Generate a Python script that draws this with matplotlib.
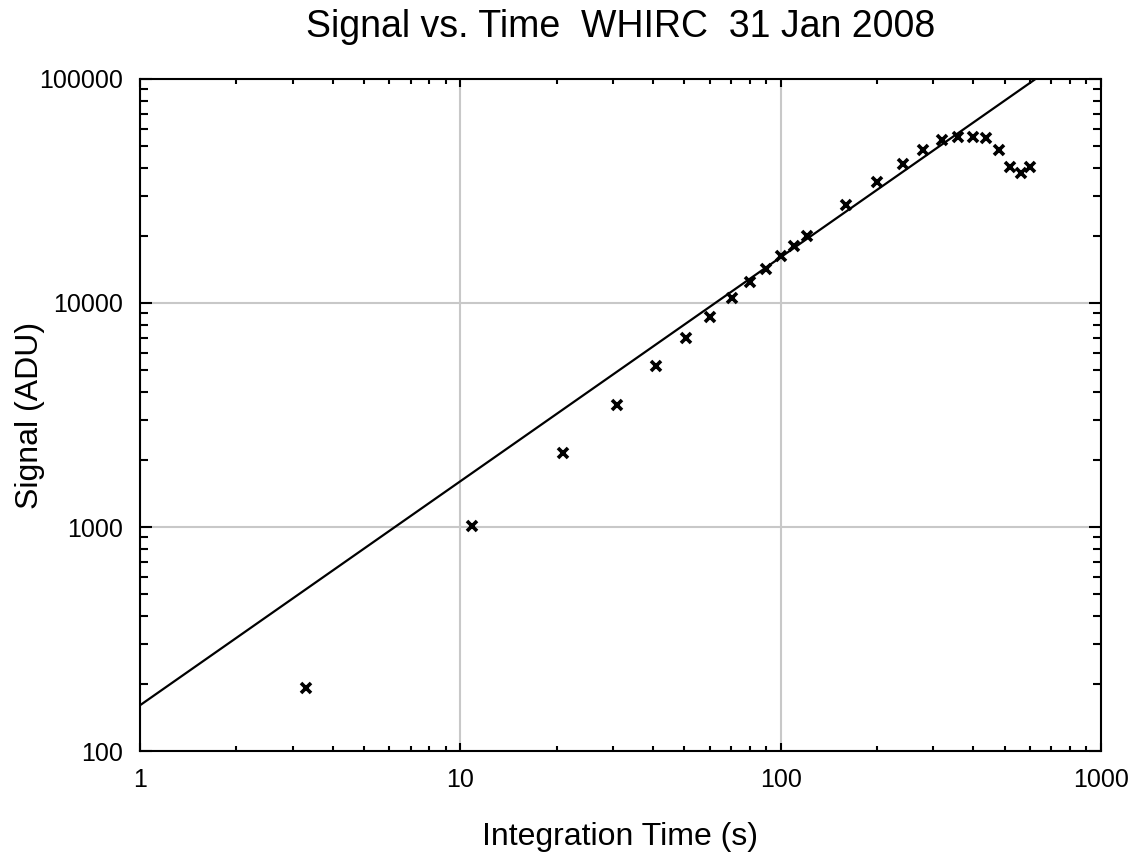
import numpy as np
import matplotlib
matplotlib.use('Agg')
import matplotlib.pyplot as plt
from matplotlib.ticker import FuncFormatter, LogLocator, NullFormatter

plt.rcParams['font.family'] = ['Liberation Sans', 'DejaVu Sans']

# integration time (s) and measured signal (ADU)
t_int = [3.3, 10.9, 20.9, 30.8, 40.8, 50.7, 60.2, 70.5, 80.3, 90, 100, 110, 121,
         160, 200, 241, 278, 319, 358, 399, 438, 481, 520, 563, 601]
signal = [191, 1010, 2140, 3500, 5230, 6980, 8660, 10500, 12400, 14200, 16200,
          17900, 19900, 27400, 34700, 41700, 48200, 53500, 55100, 55100, 54500,
          48200, 40400, 38000, 40400]

# linear fit: signal = gain * t
fit_gain = 160.0
fit_t = np.array([1, 1000])

fig = plt.figure(figsize=(11.35, 8.52), dpi=100)
ax = fig.add_axes([0.1233, 0.1185, 0.8467, 0.7888])

ax.plot(fit_t, fit_gain * fit_t, color='black', lw=1.6, zorder=3)
ax.plot(t_int, signal, linestyle='none', marker='x', color='black',
        markersize=7, markeredgewidth=2.6, zorder=4)

ax.set_xscale('log')
ax.set_yscale('log')
ax.set_xlim(1, 1000)
ax.set_ylim(100, 100000)

fmt = FuncFormatter(lambda v, p: '%d' % round(v))
ax.xaxis.set_major_formatter(fmt)
ax.yaxis.set_major_formatter(fmt)
ax.xaxis.set_minor_locator(LogLocator(base=10, subs=np.arange(2, 10)))
ax.yaxis.set_minor_locator(LogLocator(base=10, subs=np.arange(2, 10)))
ax.xaxis.set_minor_formatter(NullFormatter())
ax.yaxis.set_minor_formatter(NullFormatter())

ax.grid(True, which='major', color='#c8c8c8', lw=1.5)
ax.set_axisbelow(True)

ax.tick_params(which='both', direction='in', top=True, right=True,
               labelsize=18, width=1.5, pad=12)
ax.tick_params(axis='x', which='major', length=6)
ax.tick_params(axis='x', which='minor', length=3.5)
ax.tick_params(axis='y', which='major', length=8.5)
ax.tick_params(axis='y', which='minor', length=5.8)
for s in ax.spines.values():
    s.set_linewidth(1.5)

ax.set_xlabel('Integration Time (s)', fontsize=23)
ax.set_ylabel('Signal (ADU)', fontsize=23)
ax.xaxis.set_label_coords(0.5, -0.105)
ax.yaxis.set_label_coords(-0.099, 0.5)
ax.set_title('Signal vs. Time  WHIRC  31 Jan 2008', fontsize=27, pad=30)

fig.savefig('out.png', dpi=100)
